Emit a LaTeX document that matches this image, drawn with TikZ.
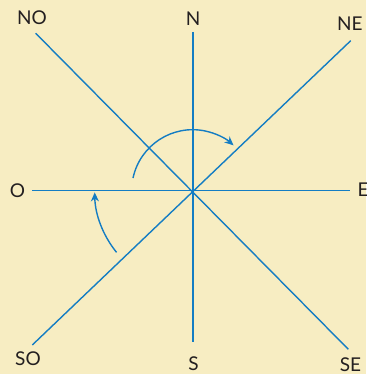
\documentclass[tikz,border=0pt]{standalone}
\usepackage{fontspec}
\setmainfont{Lato}
\usetikzlibrary{arrows.meta}
\definecolor{bg}{RGB}{247,237,194}
\definecolor{compass}{RGB}{20,125,195}
\definecolor{ink}{RGB}{35,31,32}
\tikzset{
  ray/.style={draw=compass, line width=1.4pt},
  turn/.style={draw=compass, line width=1.4pt, -{Stealth[length=9pt,width=8pt]}},
  lbl/.style={anchor=base, text=ink, font=\fontsize{19}{19}\selectfont, inner sep=0pt}
}
\begin{document}
\begin{tikzpicture}[x=1pt,y=1pt]
\fill[bg] (0,0) rectangle (366,374);
\useasboundingbox (0,0) rectangle (366,374);
\coordinate (c) at (192.7,183.3);
\coordinate (n) at (193,342);
\coordinate (s) at (193,32);
\coordinate (o) at (32,183.5);
\coordinate (e) at (350,183.5);
\coordinate (no) at (35.7,340.7);
\coordinate (se) at (348.3,24.7);
\coordinate (ne) at (350.7,333.3);
\coordinate (so) at (32.3,29);
\draw[ray] (n) -- (s);
\draw[ray] (o) -- (e);
\draw[ray] (no) -- (se);
\draw[ray] (ne) -- (so);
\node[lbl] (lno) at (32,349) {NO};
\node[lbl] (ln) at (193,348) {N};
\node[lbl, anchor=base west] (lne) at (337,343) {NE};
\node[lbl] (lo) at (17.5,176.5) {O};
\node[lbl, anchor=base west] (le) at (357.5,177) {E};
\node[lbl] (lso) at (28,9) {SO};
\node[lbl] (ls) at (193.5,3) {S};
\node[lbl] (lse) at (350.5,2) {SE};
\draw[turn] ([shift={(168:61)}]c) arc[start angle=168, end angle=48, radius=61];
\draw[turn] ([shift={(219:98)}]c) arc[start angle=219, end angle=181, radius=98];
\end{tikzpicture}
\end{document}
